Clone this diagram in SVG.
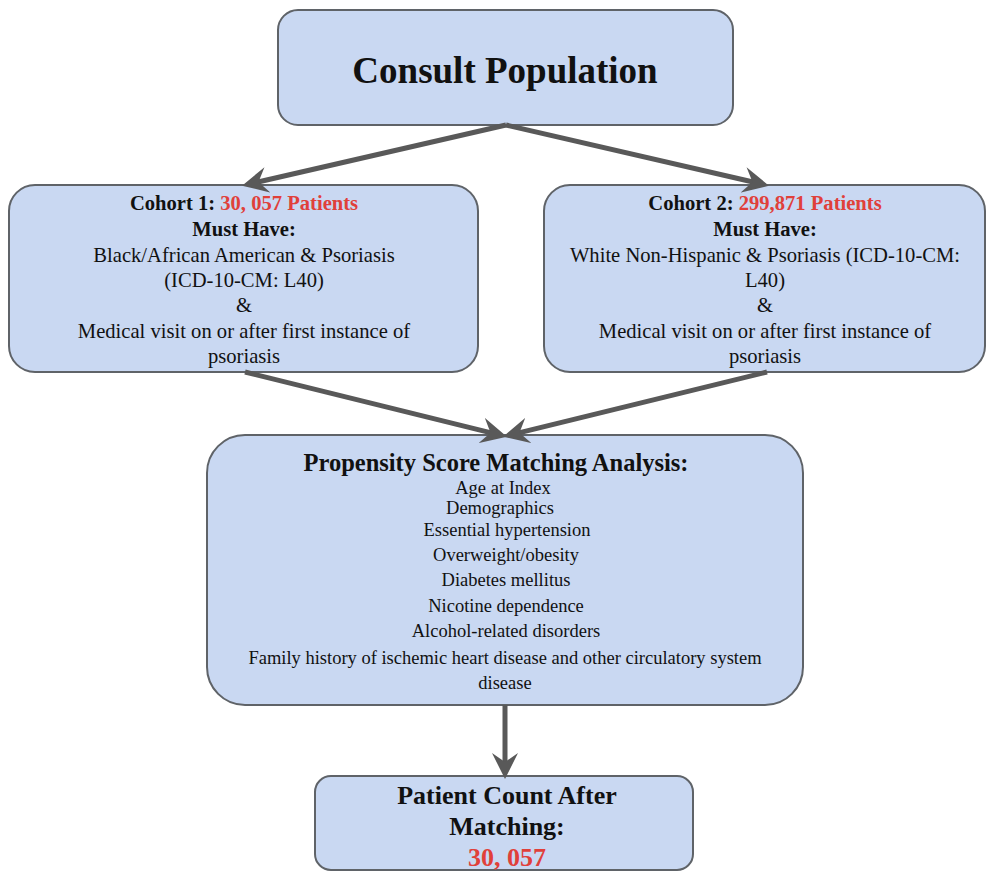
<svg xmlns="http://www.w3.org/2000/svg" width="988" height="872" viewBox="0 0 988 872">
<defs>
<style>
.box{fill:#c9d8f2;stroke:#5f6368;stroke-width:2}
text{font-family:"Liberation Serif","Times New Roman",serif;fill:#111;text-anchor:middle}
.b{font-weight:bold}
.red{fill:#e0403a;font-weight:bold}
.t18{font-size:20.6px}
.t16{font-size:18.5px}
.conn line{stroke:#595959;stroke-width:5}
</style>
<marker id="ah" viewBox="0 0 20 20" refX="10" refY="10" markerWidth="26" markerHeight="26" markerUnits="userSpaceOnUse" orient="auto">
<path d="M0,0 L20,10 L0,20 L7,10 z" fill="#595959"/>
</marker>
</defs>
<rect width="988" height="872" fill="#ffffff"/>
<g id="consult">
<rect class="box" x="278" y="10" width="455" height="115" rx="20"/>
<text class="b" x="505" y="83" style="font-size:37px">Consult Population</text>
</g>
<g id="cohort1">
<rect class="box" x="9" y="185" width="469" height="187" rx="26"/>
<g class="t18">
<text x="244" y="210"><tspan class="b">Cohort 1: </tspan><tspan class="red">30, 057 Patients</tspan></text>
<text class="b" x="244" y="236">Must Have:</text>
<text x="244" y="262">Black/African American &amp; Psoriasis</text>
<text x="244" y="287">(ICD-10-CM: L40)</text>
<text x="244" y="312">&amp;</text>
<text x="244" y="338">Medical visit on or after first instance of</text>
<text x="244" y="363">psoriasis</text>
</g>
</g>
<g id="cohort2">
<rect class="box" x="544" y="185" width="441" height="187" rx="26"/>
<g class="t18">
<text x="765" y="210"><tspan class="b">Cohort 2: </tspan><tspan class="red">299,871 Patients</tspan></text>
<text class="b" x="765" y="236">Must Have:</text>
<text x="765" y="262">White Non-Hispanic &amp; Psoriasis (ICD-10-CM:</text>
<text x="765" y="287">L40)</text>
<text x="765" y="312">&amp;</text>
<text x="765" y="338">Medical visit on or after first instance of</text>
<text x="765" y="363">psoriasis</text>
</g>
</g>
<g id="psm">
<rect class="box" x="207" y="435" width="596" height="270" rx="38"/>
<text class="b" x="496" y="471" style="font-size:24.5px">Propensity Score Matching Analysis:</text>
<g class="t16">
<text x="503" y="494">Age at Index</text>
<text x="500" y="514">Demographics</text>
<text x="507" y="536">Essential hypertension</text>
<text x="506" y="561">Overweight/obesity</text>
<text x="506" y="586">Diabetes mellitus</text>
<text x="506" y="612">Nicotine dependence</text>
<text x="506" y="637">Alcohol-related disorders</text>
<text x="505" y="664">Family history of ischemic heart disease and other circulatory system</text>
<text x="505" y="689">disease</text>
</g>
</g>
<g id="result">
<rect class="box" x="315" y="776" width="378" height="94" rx="16"/>
<g class="b" style="font-size:26px">
<text x="507" y="804">Patient Count After</text>
<text x="507" y="835">Matching:</text>
<text class="red" x="507" y="866">30, 057</text>
</g>
</g>
<g class="conn">
<line x1="506" y1="125" x2="254.7" y2="182.8" marker-end="url(#ah)"/>
<line x1="506" y1="125" x2="756.3" y2="182.8" marker-end="url(#ah)"/>
<line x1="245" y1="372" x2="494.3" y2="433.6" marker-end="url(#ah)"/>
<line x1="767" y1="372" x2="515.7" y2="433.6" marker-end="url(#ah)"/>
<line x1="505" y1="705" x2="505" y2="766" marker-end="url(#ah)"/>
</g>
</svg>
